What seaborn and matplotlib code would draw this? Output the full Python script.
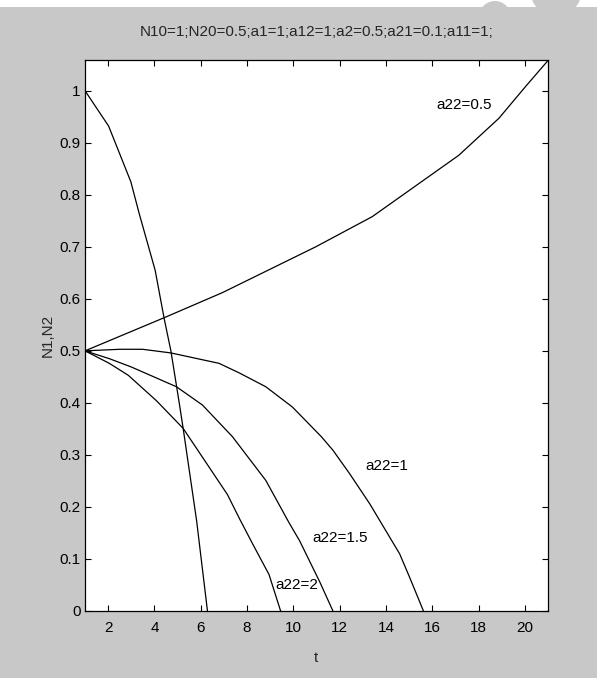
import matplotlib
matplotlib.use("Agg")
import matplotlib.pyplot as plt
from matplotlib import font_manager
from matplotlib.patches import Rectangle, Ellipse
import pandas as pd
import seaborn as sns

# ---- data -------------------------------------------------------------
title_text = "N10=1;N20=0.5;a1=1;a12=1;a2=0.5;a21=0.1;a11=1;"

# species 1
t_n1 = [1.0, 2.02, 2.98, 3.34, 4.03, 4.42, 4.71, 5.07, 5.24, 5.82, 6.29]
n1 = [1.0, 0.932, 0.825, 0.764, 0.655, 0.562, 0.500, 0.400, 0.351, 0.174, 0.0]

# species 2 for several self-limitation coefficients a22
t_a22_05 = [1.0, 4.49, 6.94, 10.97, 13.41, 14.71, 17.15, 18.88, 20.03, 21.0]
n2_a22_05 = [0.5, 0.565, 0.612, 0.700, 0.758, 0.799, 0.876, 0.947, 1.008, 1.058]

t_a22_1 = [1.0, 2.5, 3.49, 4.71, 6.79, 7.69, 8.81, 9.96, 11.21, 11.71, 12.43,
           13.30, 13.73, 14.59, 15.02, 15.62]
n2_a22_1 = [0.5, 0.503, 0.503, 0.496, 0.476, 0.457, 0.431, 0.392, 0.335, 0.309,
            0.264, 0.206, 0.174, 0.110, 0.065, 0.0]

t_a22_15 = [1.0, 2.05, 3.0, 4.95, 6.07, 7.37, 8.81, 9.81, 10.27, 11.14, 11.71]
n2_a22_15 = [0.5, 0.485, 0.469, 0.431, 0.396, 0.335, 0.251, 0.170, 0.135, 0.056, 0.0]

t_a22_2 = [1.0, 2.05, 2.87, 4.09, 5.24, 7.15, 7.69, 8.23, 8.95, 9.45]
n2_a22_2 = [0.5, 0.476, 0.453, 0.404, 0.351, 0.224, 0.176, 0.130, 0.070, 0.0]

curve_labels = ["a22=0.5", "a22=1", "a22=1.5", "a22=2"]
label_t = [17.37, 14.05, 12.01, 10.15]
label_n = [0.973, 0.279, 0.141, 0.050]

x_ticks = [2, 4, 6, 8, 10, 12, 14, 16, 18, 20]
y_ticks = [0, 0.1, 0.2, 0.3, 0.4, 0.5, 0.6, 0.7, 0.8, 0.9, 1.0]
y_tick_labels = ["0", "0.1", "0.2", "0.3", "0.4", "0.5", "0.6", "0.7", "0.8", "0.9", "1"]

# ---- long-form table --------------------------------------------------
series = [
    ("N1", t_n1, n1),
    ("a22=0.5", t_a22_05, n2_a22_05),
    ("a22=1", t_a22_1, n2_a22_1),
    ("a22=1.5", t_a22_15, n2_a22_15),
    ("a22=2", t_a22_2, n2_a22_2),
]
frames = [pd.DataFrame({"t": ts, "N": vs, "curve": name}) for name, ts, vs in series]
df = pd.concat(frames, ignore_index=True)

# ---- style ------------------------------------------------------------
sns.set_style("ticks")
installed = {f.name for f in font_manager.fontManager.ttflist}
if "Liberation Sans Narrow" in installed:
    plt.rcParams["font.family"] = ["Liberation Sans Narrow", "Liberation Sans", "DejaVu Sans"]
    fs = 12
else:
    plt.rcParams["font.family"] = ["Liberation Sans", "DejaVu Sans"]
    fs = 11

W, H = 597, 678
bg = "#c8c8c8"
fig = plt.figure(figsize=(W / 100, H / 100), dpi=100, facecolor=bg)

# white strip along the top edge with two grey discs on the right
# (kept beneath the axes so the title stays on top)
fig.patches.append(Rectangle((0, 1 - 7 / H), 1, 7 / H, transform=fig.transFigure,
                             facecolor="white", edgecolor="none", zorder=-2))
for cx, cy, r in [(495, 17, 16), (556, -10, 26)]:
    fig.patches.append(Ellipse((cx / W, 1 - cy / H), 2 * r / W, 2 * r / H,
                               transform=fig.transFigure, facecolor=bg,
                               edgecolor="none", zorder=-1))

left, right, top, bottom = 85, 548, 60, 611
ax = fig.add_axes([left / W, 1 - bottom / H, (right - left) / W, (bottom - top) / H])
ax.set_facecolor("white")

sns.lineplot(data=df, x="t", y="N", units="curve", estimator=None, sort=False,
             color="black", linewidth=0.9, ax=ax, legend=False)

ax.set_xlim(1, 21)
ax.set_ylim(0, 1.059)
ax.set_xticks(x_ticks)
ax.set_xticklabels([str(v) for v in x_ticks])
ax.set_yticks(y_ticks)
ax.set_yticklabels(y_tick_labels)

for s in ax.spines.values():
    s.set_visible(True)
    s.set_color("black")
    s.set_linewidth(0.9)

ax.tick_params(axis="both", direction="in", top=True, right=True, length=4.5,
               width=0.8, colors="black", labelsize=fs)
ax.tick_params(axis="x", pad=7)
ax.tick_params(axis="y", pad=3)

ax.set_xlabel("t", fontsize=fs)
ax.set_ylabel("N1,N2", fontsize=fs)
ax.xaxis.set_label_coords(0.499, -0.072)
ax.yaxis.set_label_coords(-0.066, 0.5)

ax.set_title(title_text, fontsize=fs, pad=17)

for txt, tx, ty in zip(curve_labels, label_t, label_n):
    ax.text(tx, ty, txt, ha="center", va="center", fontsize=fs, color="black")

fig.savefig("out.png", dpi=100, facecolor=bg)
